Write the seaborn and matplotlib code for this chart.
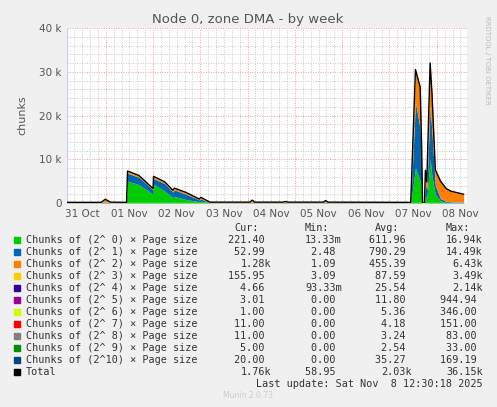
import numpy as np
import pandas as pd
import seaborn as sns
import matplotlib.pyplot as plt

# time in days since 31 Oct 00:00
days = [-0.32, 0.40, 0.49, 0.60, 0.94, 0.96, 1.20, 1.50, 1.51, 1.75, 1.92, 1.95, 2.20, 2.48, 2.51,
        2.70, 3.55, 3.60, 3.65, 4.25, 4.30, 4.35, 5.10, 5.15, 5.20, 6.95, 7.05, 7.15, 7.18, 7.20,
        7.24, 7.26, 7.29, 7.36, 7.40, 7.47, 7.58, 7.70, 7.80, 8.07]
green = [20, 20, 50, 20, 20, 5000, 4200, 2000, 4300, 2700, 1200, 1500, 800, 300, 400,
         20, 20, 50, 20, 20, 40, 20, 20, 60, 20, 20, 8000, 5000, 2500, 0,
         0, 1500, 1000, 10000, 6000, 2000, 500, 100, 50, 50]
blue = [50, 50, 150, 50, 50, 1800, 1700, 1000, 1300, 1700, 1300, 1500, 1200, 400, 500,
        50, 50, 100, 50, 50, 80, 50, 50, 100, 50, 50, 15000, 12000, 5000, 0,
        0, 3000, 2000, 12000, 10000, 2000, 500, 300, 200, 150]
orange = [30, 30, 600, 100, 30, 300, 300, 200, 300, 300, 300, 300, 300, 200, 300,
          50, 50, 400, 50, 50, 150, 50, 50, 300, 50, 30, 7000, 9000, 5000, 0,
          0, 2500, 1500, 9500, 8500, 3300, 4000, 2800, 2400, 1800]
total = [150, 150, 850, 200, 150, 7300, 6300, 3300, 6100, 4800, 2900, 3400, 2400, 900, 1300,
         200, 200, 650, 200, 200, 350, 200, 200, 550, 200, 150, 30500, 26500, 13000, 0,
         0, 7500, 4800, 32000, 25000, 7600, 5000, 3300, 2700, 2000]

day_labels = ["31 Oct", "01 Nov", "02 Nov", "03 Nov", "04 Nov", "05 Nov", "06 Nov", "07 Nov", "08 Nov"]

legend_names = [f"Chunks of (2^{i:2d}) × Page size" for i in range(11)] + ["Total"]
legend_colors = ["#00CC00", "#0066B3", "#FF8000", "#FFCC00", "#330099", "#990099",
                 "#CCFF00", "#FF0000", "#808080", "#008F00", "#00487D", "#000000"]
cur = ["221.40 ", "52.99 ", "1.28k", "155.95 ", "4.66 ", "3.01 ", "1.00 ", "11.00 ", "11.00 ", "5.00 ", "20.00 ", "1.76k"]
mins = ["13.33m", "2.48 ", "1.09 ", "3.09 ", "93.33m", "0.00 ", "0.00 ", "0.00 ", "0.00 ", "0.00 ", "0.00 ", "58.95 "]
avgs = ["611.96 ", "790.29 ", "455.39 ", "87.59 ", "25.54 ", "11.80 ", "5.36 ", "4.18 ", "3.24 ", "2.54 ", "35.27 ", "2.03k"]
maxs = ["16.94k", "14.49k", "6.43k", "3.49k", "2.14k", "944.94 ", "346.00 ", "151.00 ", "83.00 ", "33.00 ", "169.19 ", "36.15k"]

df = pd.DataFrame({"day": days, "green": green, "blue": blue, "orange": orange, "total": total})

sns.set_style("white")
W, H = 497, 407
fig = plt.figure(figsize=(W / 100, H / 100), dpi=100, facecolor="#F0F0F0")
ax = fig.add_axes([67 / W, 1 - 203 / H, 400 / W, 175 / H])
ax.set_facecolor("white")

xmin, xmax = -0.32, 8.14
ax.set_xlim(xmin, xmax)
ax.set_ylim(0, 40000)

# grid
for y in range(2000, 40001, 2000):
    ax.axhline(y, color="#F0A0A0" if y % 10000 == 0 else "#C8C8C8", lw=0.7, ls=(0, (1, 1.5)), zorder=0)
for x in np.arange(-1 / 6, xmax, 1 / 6):
    if abs((x - 0.5) - round(x - 0.5)) < 1e-6:
        ax.axvline(x, color="#F0A0A0", lw=0.7, ls=(0, (1, 1.5)), zorder=0)
    elif x > xmin:
        ax.axvline(x, color="#C8C8C8", lw=0.7, ls=(0, (1, 1.5)), zorder=0)

b1 = df["green"]
b2 = b1 + df["blue"]
b3 = b2 + df["orange"]
ax.fill_between(df["day"], 0, b1, color=legend_colors[0], lw=0)
ax.fill_between(df["day"], b1, b2, color=legend_colors[1], lw=0)
ax.fill_between(df["day"], b2, b3, color=legend_colors[2], lw=0)
ax.fill_between(df["day"], b3, df["total"], color="#FFCC00", lw=0)
sns.lineplot(data=df, x="day", y="total", color="black", lw=1, ax=ax)

ax.set_xticks(range(9))
ax.set_xticklabels(day_labels)
ax.set_yticks([0, 10000, 20000, 30000, 40000])
ax.set_yticklabels(["0", "10 k", "20 k", "30 k", "40 k"])
ax.tick_params(labelsize=7.5, colors="#555555", length=0, pad=4)
ax.set_xlabel("")
ax.set_ylabel("chunks", fontsize=8, color="#555555", labelpad=8)
for s in ax.spines.values():
    s.set_visible(False)
ax.axhline(0, color="#CCCCFF", lw=1, zorder=1)
ax.axvline(xmin, color="#CCCCFF", lw=1, zorder=1)

fig.text(248 / W, 1 - 20 / H, "Node 0, zone DMA - by week", ha="center", va="center", fontsize=9.5, color="#555555")
fig.text(487 / W, 1 - 60 / H, "RRDTOOL / TOBI OETIKER", rotation=270, ha="center", va="center", fontsize=5, color="#BBBBBB")

mono = "DejaVu Sans Mono"
fs = 7.3
hy = 1 - 228 / H
for xh, t in [(247, "Cur:"), (317, "Min:"), (387, "Avg:"), (458, "Max:")]:
    fig.text(xh / W, hy, t, ha="center", va="center", family=mono, fontsize=fs, color="#333333")
for i, name in enumerate(legend_names):
    y = 1 - (240 + i * 12) / H
    fig.patches.append(plt.Rectangle((14 / W, y - 2.5 / H), 6 / W, 6 / H, transform=fig.transFigure,
                                     color=legend_colors[i]))
    fig.text(26 / W, y, name, ha="left", va="center", family=mono, fontsize=fs, color="#333333")
    for xr, v in [(271, cur[i]), (342, mins[i]), (412, avgs[i]), (483, maxs[i])]:
        fig.text(xr / W, y, v, ha="right", va="center", family=mono, fontsize=fs, color="#333333")
fig.text(483 / W, 1 - 384 / H, "Last update: Sat Nov  8 12:30:18 2025", ha="right", va="center",
         family=mono, fontsize=fs, color="#333333")
fig.text(248 / W, 1 - 396 / H, "Munin 2.0.73", ha="center", va="center", fontsize=5.5, color="#CCCCCC")

fig.savefig("out.png", dpi=100, facecolor=fig.get_facecolor())
